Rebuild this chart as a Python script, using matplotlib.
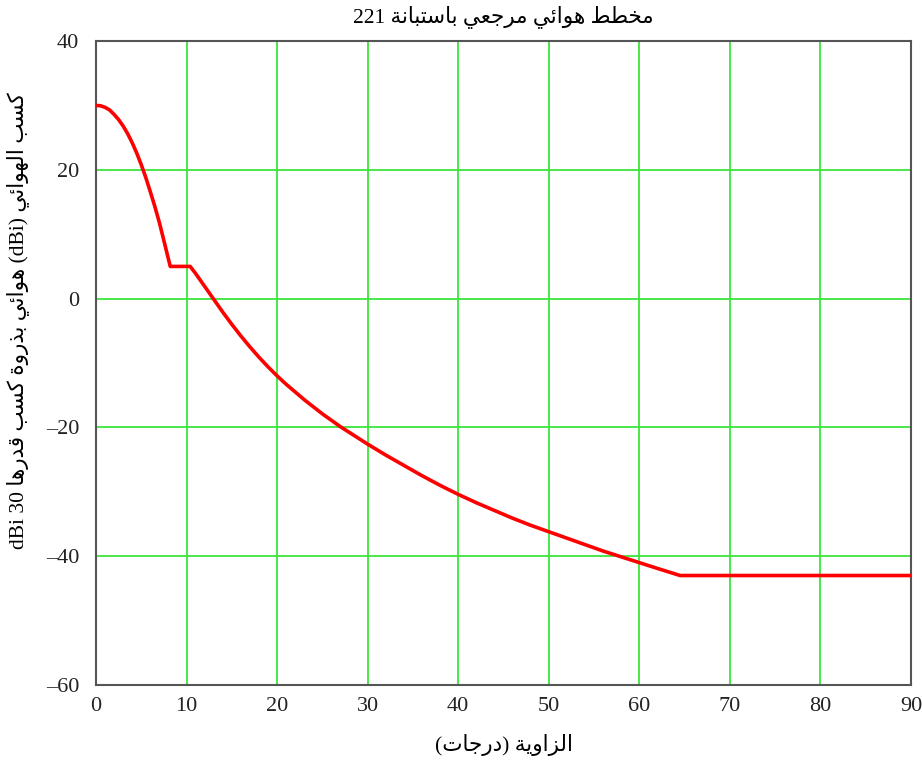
import numpy as np
import matplotlib
matplotlib.use('Agg')
import matplotlib.pyplot as plt

# angle (deg) and antenna gain (dBi)
angle = [0, 0.5, 1, 1.5, 2, 2.5, 3, 3.5, 4, 4.5, 5, 5.5, 6, 6.5, 7, 7.5, 8.2,
         10.4, 11, 12, 13, 14, 15, 16, 17, 18, 19, 20, 21, 22, 23, 24, 25, 26,
         27, 28, 29, 30, 32, 34, 36, 38, 40, 42, 44, 46, 48, 50, 52, 54, 56,
         58, 60, 62, 64.5, 70, 80, 90]
gain = [30.0, 29.95, 29.7, 29.3, 28.6, 27.8, 26.8, 25.6, 24.2, 22.6, 20.8,
        18.8, 16.6, 14.3, 11.8, 9.0, 5.0,
        5.0, 3.9, 1.9, -0.1, -2.1, -4.0, -5.8, -7.5, -9.1, -10.6, -12.0, -13.3,
        -14.5, -15.7, -16.8, -17.9, -18.9, -19.9, -20.8, -21.7, -22.6, -24.3,
        -25.9, -27.5, -29.0, -30.4, -31.7, -32.9, -34.1, -35.2, -36.2, -37.2,
        -38.2, -39.2, -40.1, -41.0, -41.9, -43.0, -43.0, -43.0, -43.0]

xticks = [0, 10, 20, 30, 40, 50, 60, 70, 80, 90]
yticks = [-60, -40, -20, 0, 20, 40]

title_txt = 'مخطط هوائي مرجعي باستبانة 221'
xlabel_txt = 'الزاوية (درجات)'
ylabel_txt = 'كسب الهوائي (dBi) هوائي بذروة كسب قدرها 30 dBi'

# minimal arabic shaping (matplotlib has no shaping/bidi of its own)
# letter: (isolated, final, initial, medial); 2 forms -> right-joining only
FORMS = {
    'ا': (0xFE8D, 0xFE8E), 'ب': (0xFE8F, 0xFE90, 0xFE91, 0xFE92),
    'ة': (0xFE93, 0xFE94), 'ت': (0xFE95, 0xFE96, 0xFE97, 0xFE98),
    'ج': (0xFE9D, 0xFE9E, 0xFE9F, 0xFEA0), 'خ': (0xFEA5, 0xFEA6, 0xFEA7, 0xFEA8),
    'د': (0xFEA9, 0xFEAA), 'ذ': (0xFEAB, 0xFEAC), 'ر': (0xFEAD, 0xFEAE),
    'ز': (0xFEAF, 0xFEB0), 'س': (0xFEB1, 0xFEB2, 0xFEB3, 0xFEB4),
    'ط': (0xFEC1, 0xFEC2, 0xFEC3, 0xFEC4), 'ع': (0xFEC9, 0xFECA, 0xFECB, 0xFECC),
    'ق': (0xFED5, 0xFED6, 0xFED7, 0xFED8), 'ك': (0xFED9, 0xFEDA, 0xFEDB, 0xFEDC),
    'ل': (0xFEDD, 0xFEDE, 0xFEDF, 0xFEE0), 'م': (0xFEE1, 0xFEE2, 0xFEE3, 0xFEE4),
    'ن': (0xFEE5, 0xFEE6, 0xFEE7, 0xFEE8), 'ه': (0xFEE9, 0xFEEA, 0xFEEB, 0xFEEC),
    'و': (0xFEED, 0xFEEE), 'ي': (0xFEF1, 0xFEF2, 0xFEF3, 0xFEF4),
    'ئ': (0xFE89, 0xFE8A, 0xFE8B, 0xFE8C),
}
MIRROR = {'(': ')', ')': '('}


def shape_word(w):
    out = []
    for i, c in enumerate(w):
        if c not in FORMS:
            out.append(c)
            continue
        f = FORMS[c]
        prev = w[i - 1] if i > 0 else ''
        nxt = w[i + 1] if i + 1 < len(w) else ''
        jp = prev in FORMS and len(FORMS[prev]) == 4
        jn = len(f) == 4 and nxt in FORMS
        if jp and jn:
            out.append(chr(f[3]))
        elif jp:
            out.append(chr(f[1]))
        elif jn:
            out.append(chr(f[2]))
        else:
            out.append(chr(f[0]))
    return ''.join(out)


def ar(s):
    toks = s.split(' ')[::-1]
    res = []
    for t in toks:
        if any(c in FORMS for c in t):
            t = ''.join(MIRROR.get(c, c) for c in shape_word(t)[::-1])
        res.append(t)
    return ' '.join(res)


fam = ['Liberation Serif', 'DejaVu Sans']
plt.rcParams['font.family'] = fam
plt.rcParams['font.size'] = 15.5

fig = plt.figure(figsize=(9.22, 7.6), dpi=100)
ax = fig.add_axes([0.1041, 0.0987, 0.8840, 0.8473])

ax.plot(angle, gain, color='#ff0000', lw=2.6, zorder=3)

ax.set_xlim(0, 90)
ax.set_ylim(-60, 40)
ax.set_xticks(xticks)
ax.set_yticks(yticks)
ax.set_xticklabels([str(v) for v in xticks])
ax.set_yticklabels([str(v).replace('-', '\u2013') for v in yticks])
ax.tick_params(length=0, labelsize=16, colors='#222222')
ax.tick_params(axis='y', pad=12)
ax.tick_params(axis='x', pad=9)
ax.grid(True, color='#3ce63c', lw=1.3)
for sp in ax.spines.values():
    sp.set_color('#555555')
    sp.set_linewidth(1.5)

fig.text(0.5461, 0.978, ar(title_txt), ha='center', va='center', fontsize=15.5)
fig.text(0.5461, 0.020, ar(xlabel_txt), ha='center', va='center', fontsize=15.5)
fig.text(0.019, 0.578, ar(ylabel_txt), ha='center', va='center',
         rotation=90, fontsize=15.5)

fig.savefig('out.png', dpi=100)
